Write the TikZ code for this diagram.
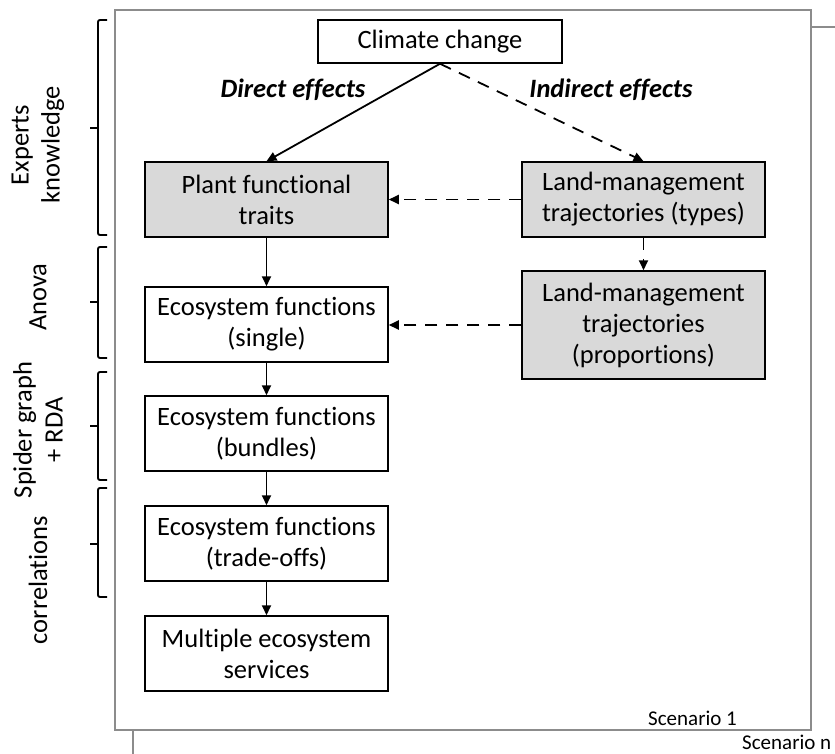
\documentclass[tikz,border=0pt]{standalone}
\usepackage{fontspec}
\setmainfont{Carlito}[Ligatures=NoCommon]
\usetikzlibrary{arrows.meta}
\definecolor{framegray}{HTML}{8C8C8C}
\definecolor{boxgray}{HTML}{D9D9D9}
\begin{document}
\begin{tikzpicture}[x=1pt,y=-1pt,
  every node/.style={font=\fontsize{26.5}{31}\selectfont},
  box/.style={draw=black, line width=1.5pt, fill=white, minimum width=243pt,
    minimum height=75pt, inner sep=2pt, align=center},
  greybox/.style={box, fill=boxgray},
  flow/.style={line width=1.8pt, -{Triangle[length=10pt,width=9pt]}},
  dflow/.style={flow, dash pattern=on 12pt off 9pt},
  brace/.style={line width=1.9pt, rounded corners=2pt},
  sidelabel/.style={rotate=90, align=center, inner sep=0pt},
  scen/.style={font=\fontsize{21}{25}\selectfont, anchor=base west, inner sep=0pt}]
\useasboundingbox (0,0) rectangle (835,753);
\clip (0,0) rectangle (835,753);

% stacked scenario frames
\draw[framegray, line width=2.2pt, fill=white] (133,27) rectangle (860,780);
\draw[framegray, line width=2.2pt, fill=white] (115,10) rectangle (811,730);
\node[scen] (s1) at (648,725) {Scenario 1};
\node[scen] (sn) at (742,749) {Scenario n};

% boxes
\node[box, minimum width=244pt, minimum height=43pt] (clim) at (440,41.5) {Climate change};
\node[greybox] (pft) at (266.5,199.5) {Plant functional\\traits};
\node[greybox] (lmt) at (643.5,199.5) {Land-management\\trajectories (types)};
\node[greybox, minimum height=108pt] (lmp) at (643.5,325) {Land-management\\trajectories\\(proportions)};
\node[box] (efs) at (266.5,324.5) {Ecosystem functions\\(single)};
\node[box] (efb) at (266.5,433.5) {Ecosystem functions\\(bundles)};
\node[box] (eft) at (266.5,543.5) {Ecosystem functions\\(trade-offs)};
\node[box] (mes) at (266.5,653.5) {Multiple ecosystem\\services};

% effect labels
\node (direct) at (293,90) {\bfseries\itshape Direct effects};
\node (indirect) at (611,90) {\bfseries\itshape Indirect effects};

% connectors
\draw[flow] (clim.south) -- (pft.north);
\draw[dflow] (clim.south) -- (lmt.north);
\draw[dflow] (lmt.west) -- (pft.east);
\draw[dflow] (lmt.south) -- (lmp.north);
\draw[dflow] (lmp.west) -- (efs.east |- lmp.west);
\draw[flow] (pft.south) -- (efs.north);
\draw[flow] (efs.south) -- (efb.north);
\draw[flow] (efb.south) -- (eft.north);
\draw[flow] (eft.south) -- (mes.north);

% method braces
\draw[brace] (107,20) -- (98,20) -- (98,235) -- (107,235);
\draw[brace] (98,128) -- (90,128);
\draw[brace] (107,247) -- (98,247) -- (98,358) -- (107,358);
\draw[brace] (98,302) -- (90,302);
\draw[brace] (107,372) -- (98,372) -- (98,480) -- (107,480);
\draw[brace] (98,426) -- (90,426);
\draw[brace] (107,488) -- (98,488) -- (98,597) -- (107,597);
\draw[brace] (98,544) -- (90,544);

% method labels
\node[sidelabel] (m1) at (38,145) {Experts\\knowledge};
\node[sidelabel] (m2) at (38,297) {Anova};
\node[sidelabel] (m3) at (38,430) {Spider graph\\+ RDA};
\node[sidelabel] (m4) at (38,580) {correlations};
\end{tikzpicture}
\end{document}
